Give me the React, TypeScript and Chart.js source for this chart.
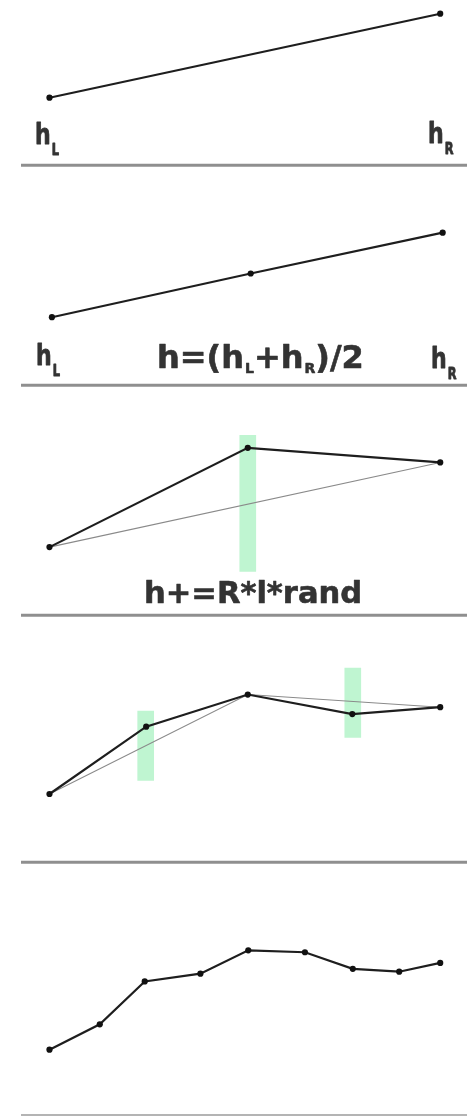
import React, { useEffect, useRef } from "react";
import { Chart, registerables } from "chart.js";

Chart.register(...registerables);

// ---- data (x in grid units: hL = 0, hR = 8; heights in units above each panel's baseline) ----
const p1X = [0, 8];
const p1H = [7.0, 15.7];

const p2X = [0.05, 4.12, 8.05];
const p2H = [7.0, 11.5, 15.7];

const p3X = [0, 4.06, 8];
const p3H = [7.0, 17.2, 15.7];
const p3BaseX = [0, 8];
const p3BaseH = [7.0, 15.7];
const p3RangeX = [4.06];
const p3RangeLo = [4.5];
const p3RangeHi = [18.5];

const p4X = [0, 1.98, 4.06, 6.2, 8];
const p4H = [7.0, 13.9, 17.2, 15.2, 15.9];
const p4PrevX = [0, 4.06, 8];
const p4PrevH = [7.0, 17.2, 15.9];
const p4RangeX = [1.97, 6.21];
const p4RangeLo = [8.4, 12.8];
const p4RangeHi = [15.5, 19.9];

const p5X = [0, 1.03, 1.95, 3.09, 4.07, 5.23, 6.21, 7.16, 8];
const p5H = [6.7, 9.3, 13.7, 14.5, 16.9, 16.7, 15.0, 14.7, 15.6];

// text labels
const LABEL_H = "h";
const SUB_L = "L";
const SUB_R = "R";
const FORMULA_MID = ["h=(h", "L", "+h", "R", ")/2"];
const FORMULA_RAND = "h+=R*l*rand";

// ---- layout ----
const W = 467;
const X_ORIGIN_PX = 47;
const X_UNIT_PX = 49.5;
const Y_UNIT_PX = 10;
const FONT = '"DejaVu Sans", Verdana, sans-serif';
const TEXT_COLOR = "#333";

type Seg = { t: string; sub?: boolean };
type Run = { x: number; y: number; segs: Seg[]; size: number; subSize: number; drop: number; sx: number; stroke: number };

function line(xs: number[], ys: number[], color: string, width: number, points: boolean, order: number) {
  return {
    type: "line" as const,
    data: xs.map((x, i) => ({ x, y: ys[i] })),
    borderColor: color,
    borderWidth: width,
    pointRadius: points ? 3.1 : 0,
    pointHoverRadius: 0,
    pointBackgroundColor: "#111",
    pointBorderWidth: 0,
    tension: 0,
    fill: false,
    clip: false as any,
    order,
  };
}

function bars(xs: number[], lo: number[], hi: number[]) {
  return {
    type: "bar" as const,
    data: xs.map((x, i) => ({ x, y: [lo[i], hi[i]] })),
    backgroundColor: "#bff5d1",
    borderWidth: 0,
    barThickness: 16,
    order: 3,
  };
}

function labelRun(x: number, y: number, sub: string): Run {
  return { x, y, segs: [{ t: LABEL_H }, { t: sub, sub: true }], size: 29, subSize: 15, drop: 11, sx: 0.76, stroke: 0.9 };
}

const panels = [
  {
    height: 180,
    sep: 168,
    sepWidth: 3,
    sepColor: "#8f8f8f",
    datasets: [line(p1X, p1H, "#1e1e1e", 2.2, true, 1)],
    runs: [labelRun(35, 144, SUB_L), labelRun(428, 143, SUB_R)],
  },
  {
    height: 220,
    sep: 208,
    sepWidth: 3,
    sepColor: "#8f8f8f",
    datasets: [line(p2X, p2H, "#1e1e1e", 2.2, true, 1)],
    runs: [
      labelRun(36, 185, SUB_L),
      {
        x: 157,
        y: 188,
        segs: FORMULA_MID.map((t, i) => ({ t, sub: i % 2 === 1 })),
        size: 32,
        subSize: 14,
        drop: 5,
        sx: 1.0,
        stroke: 0.6,
      },
      labelRun(431, 188, SUB_R),
    ],
  },
  {
    height: 230,
    sep: 218,
    sepWidth: 3,
    sepColor: "#8f8f8f",
    datasets: [
      bars(p3RangeX, p3RangeLo, p3RangeHi),
      line(p3BaseX, p3BaseH, "#8a8a8a", 1.1, false, 2),
      line(p3X, p3H, "#1e1e1e", 2.2, true, 1),
    ],
    runs: [{ x: 144, y: 203, segs: [{ t: FORMULA_RAND }], size: 31, subSize: 14, drop: 0, sx: 0.985, stroke: 0.6 }],
  },
  {
    height: 248,
    sep: 235,
    sepWidth: 3,
    sepColor: "#8f8f8f",
    datasets: [
      bars(p4RangeX, p4RangeLo, p4RangeHi),
      line(p4PrevX, p4PrevH, "#8a8a8a", 1.1, false, 2),
      line(p4X, p4H, "#1e1e1e", 2.2, true, 1),
    ],
    runs: [] as Run[],
  },
  {
    height: 242,
    sep: 240,
    sepWidth: 2,
    sepColor: "#b4b4b4",
    datasets: [line(p5X, p5H, "#1e1e1e", 2.2, true, 1)],
    runs: [] as Run[],
  },
];

function drawRun(ctx: CanvasRenderingContext2D, r: Run) {
  let cx = r.x;
  ctx.fillStyle = TEXT_COLOR;
  ctx.strokeStyle = TEXT_COLOR;
  ctx.lineJoin = "round";
  ctx.textBaseline = "alphabetic";
  ctx.textAlign = "left";
  for (const s of r.segs) {
    const size = s.sub ? r.subSize : r.size;
    ctx.font = `bold ${size}px ${FONT}`;
    const w = ctx.measureText(s.t).width * r.sx;
    ctx.save();
    ctx.translate(cx + (s.sub ? 1 : 0), r.y + (s.sub ? r.drop : 0));
    ctx.scale(r.sx, 1);
    ctx.fillText(s.t, 0, 0);
    if (r.stroke > 0) {
      ctx.lineWidth = r.stroke;
      ctx.strokeText(s.t, 0, 0);
    }
    ctx.restore();
    cx += w + (s.sub ? 1 : 0);
  }
}

function Panel({ cfg }: { cfg: (typeof panels)[number] }) {
  const ref = useRef<HTMLCanvasElement | null>(null);
  useEffect(() => {
    if (!ref.current) return;
    const overlay = {
      id: "overlay",
      beforeDatasetsDraw(chart: any) {
        const ctx = chart.ctx as CanvasRenderingContext2D;
        const y = chart.scales.y.getPixelForValue(0);
        ctx.save();
        ctx.strokeStyle = cfg.sepColor;
        ctx.lineWidth = cfg.sepWidth;
        ctx.beginPath();
        ctx.moveTo(21, y);
        ctx.lineTo(W, y);
        ctx.stroke();
        ctx.restore();
      },
      afterDatasetsDraw(chart: any) {
        const ctx = chart.ctx as CanvasRenderingContext2D;
        ctx.save();
        for (const r of cfg.runs) drawRun(ctx, r);
        ctx.restore();
      },
    };
    const chart = new Chart(ref.current, {
      type: "line",
      data: { datasets: cfg.datasets as any },
      options: {
        responsive: false,
        maintainAspectRatio: false,
        animation: false,
        events: [],
        layout: { padding: 0 },
        plugins: { legend: { display: false }, tooltip: { enabled: false } },
        scales: {
          x: {
            type: "linear",
            display: false,
            offset: false,
            grid: { offset: false },
            min: -X_ORIGIN_PX / X_UNIT_PX,
            max: (W - X_ORIGIN_PX) / X_UNIT_PX,
          },
          y: {
            type: "linear",
            display: false,
            offset: false,
            min: -(cfg.height - cfg.sep) / Y_UNIT_PX,
            max: cfg.sep / Y_UNIT_PX,
          },
        },
      },
      plugins: [overlay],
    });
    return () => chart.destroy();
  }, [cfg]);
  return <canvas ref={ref} width={W} height={cfg.height} style={{ display: "block", width: W, height: cfg.height }} />;
}

export default function App() {
  return (
    <div style={{ position: "absolute", left: 0, top: 0, width: W, background: "#fff" }}>
      {panels.map((p, i) => (
        <Panel key={i} cfg={p} />
      ))}
    </div>
  );
}
